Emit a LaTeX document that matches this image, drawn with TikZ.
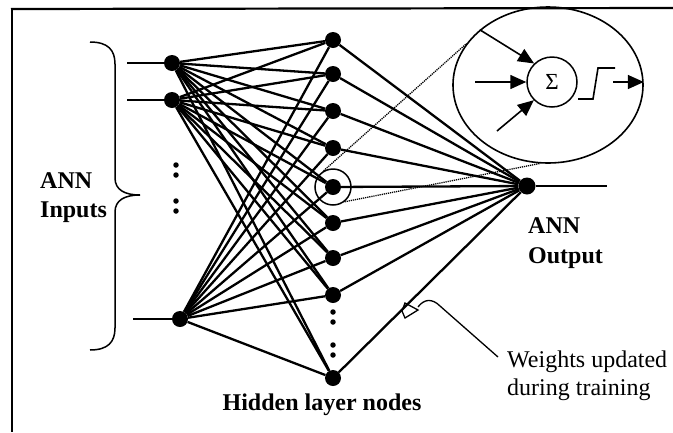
\documentclass[tikz,border=0pt]{standalone}
\usepackage{fontspec}
\setmainfont{Liberation Serif}
\usetikzlibrary{arrows.meta,shapes.geometric}
\begin{document}
\begin{tikzpicture}[x=1pt,y=-1pt,
  neuron/.style={circle,fill=black,inner sep=0pt,minimum size=16pt},
  dotpt/.style={circle,fill=black,inner sep=0pt,minimum size=5.5pt},
  link/.style={line width=2.3pt},
  stub/.style={line width=1.5pt},
  thinline/.style={line width=1.5pt},
  zoomline/.style={line width=1.3pt,dash pattern=on 1.2pt off 0.9pt},
  head/.style={line width=1.6pt,-{Triangle[length=16pt,width=14pt]}},
  lbl/.style={font=\fontsize{24}{29}\selectfont\bfseries,inner sep=0pt},
  note/.style={font=\fontsize{24}{28}\selectfont,inner sep=0pt}]
\useasboundingbox (0,0) rectangle (673,432);

% frame
\draw[line width=2.2pt] (11,9) -- (673,8);
\draw[line width=1.6pt] (12,9) -- (12,432);

% input layer
\node[neuron] (i1) at (172,63) {};
\node[neuron] (i2) at (172,100) {};
\node[neuron] (i3) at (180,319) {};
\coordinate (s1) at (127,63);
\coordinate (s2) at (127,100);
\coordinate (s3) at (133,319);
\foreach \k in {1,2,3} \draw[stub] (s\k) -- (i\k);
\foreach \y in {165,175,201,211} \node[dotpt] (id\y) at (176,\y) {};

% hidden layer
\foreach \n/\y in {1/40,2/74,3/111,4/148,5/187,6/223,7/258,8/295,9/378}
  \node[neuron] (h\n) at (333,\y) {};
\foreach \y in {312,322,345,355} \node[dotpt] (hd\y) at (333,\y) {};

% output
\node[neuron,minimum size=17pt] (o) at (527,186) {};
\coordinate (oend) at (607,186);
\draw[stub] (o) -- (oend);

% connections
\foreach \i in {1,2,3}
  \foreach \h in {1,...,9}
    \draw[link] (i\i) -- (h\h);
\foreach \h in {1,...,9} \draw[link] (h\h) -- (o);

% inputs brace
\draw[thinline] (90,42) .. controls (108,42) and (115,50) .. (115,64) -- (115,178)
  .. controls (115,190) and (125,195) .. (140,195)
  .. controls (125,195) and (115,200) .. (115,212) -- (115,328)
  .. controls (115,342) and (108,350) .. (90,350);

% magnified neuron
\node[circle,draw,thinline,minimum size=36pt,inner sep=0pt] (sc) at (333,187) {};
\node[ellipse,draw,line width=1.6pt,minimum width=190pt,minimum height=156pt,inner sep=0pt] (big) at (548,85) {};
\node[circle,draw,thinline,minimum size=50pt,inner sep=0pt,font=\fontsize{23}{23}\selectfont] (sig) at (552,82) {Σ};
\draw[zoomline] (sc.120) -- (big.153);
\draw[zoomline] (sc.-52) -- (big.264);

\coordinate (a2s) at (475,82);
\coordinate (a3s) at (497,131);
\coordinate (a4s) at (613,82);
\draw[head] (big.141) -- (sig.134);
\draw[head] (a2s) -- (sig.west);
\draw[head] (a3s) -- (sig.225);
\draw[line width=1.6pt] (578,99) -- (593,99) -- (598,68) -- (615,68);
\draw[head] (a4s) -- (a4s -| big.east);

% labels
\node[lbl,anchor=base west] (inA) at (40,188) {ANN};
\node[lbl,anchor=base west] (inB) at (40,217) {Inputs};
\node[lbl,anchor=base west] (outA) at (528,233) {ANN};
\node[lbl,anchor=base west] (outB) at (528,263) {Output};
\node[lbl,anchor=base] (hid) at (322,410) {Hidden layer nodes};
\node[note,anchor=base west] (w1) at (507,367) {Weights updated};
\node[note,anchor=base west] (w2) at (507,395) {during training};

% weight callout
\coordinate (cs) at (498,357);
\draw[line width=1.3pt] (cs) -- (440,306) .. controls (432,298) and (424,299) .. (418,307);
\draw[line width=1.3pt] (405,303) -- (418,310) -- (405,318) -- (402,311) -- cycle;
\end{tikzpicture}
\end{document}
